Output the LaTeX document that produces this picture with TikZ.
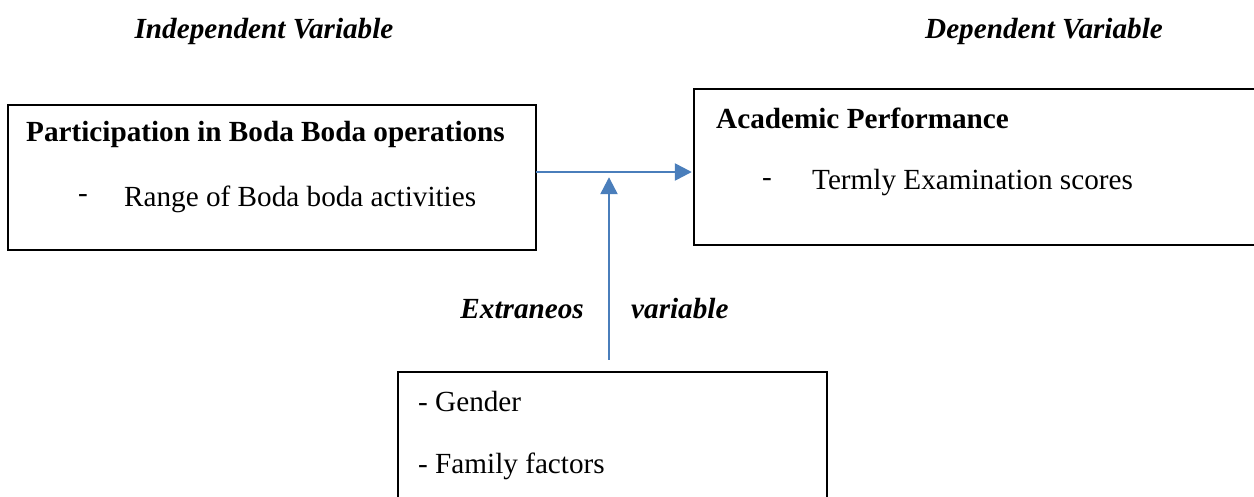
\documentclass[tikz,border=0pt]{standalone}
\usepackage{fontspec}
\setmainfont{Liberation Serif}
\usetikzlibrary{arrows.meta}
\definecolor{arrowblue}{RGB}{74,126,187}
\begin{document}
\begin{tikzpicture}[x=1pt,y=-1pt,
  txt/.style={font=\fontsize{29.2}{34}\selectfont, inner sep=0pt, anchor=west},
  bold/.style={txt, font=\fontsize{29.2}{34}\selectfont\bfseries},
  bolditalic/.style={txt, font=\fontsize{29.2}{34}\selectfont\bfseries\itshape},
  boxline/.style={draw=black, line width=1.4pt},
  conn/.style={draw=arrowblue, line width=2.4pt, -{Triangle[length=17pt,width=17pt]}}
]
\useasboundingbox (0,0) rectangle (1254,496);
% boxes
\draw[boxline] (8,105) rectangle (536,250);
\draw[boxline] (1260,89) -- (694,89) -- (694,245) -- (1260,245);
\draw[boxline] (398,520) -- (398,372) -- (827,372) -- (827,520);
% coordinates for connectors
\node[inner sep=0pt, minimum size=0pt] (ivR) at (536,172) {};
\node[inner sep=0pt, minimum size=0pt] (dvL) at (692,172) {};
\node[inner sep=0pt, minimum size=0pt] (exT) at (609,360) {};
\node[inner sep=0pt, minimum size=0pt] (arrTop) at (609,177) {};
\draw[conn] (ivR) -- (dvL);
\draw[conn] (exT) -- (arrTop);
% headers
\node[bolditalic, anchor=center] (ivh) at (264,31) {Independent Variable};
\node[bolditalic, anchor=center] (dvh) at (1044,31) {Dependent Variable};
% left box text
\node[bold] (ivt) at (26,134) {Participation in Boda Boda operations};
\node[txt] (ivd) at (78,199) {-};
\node[txt] (ivi) at (124,199) {Range of Boda boda activities};
% right box text
\node[bold] (dvt) at (716,118) {Academic Performance};
\node[txt] (dvd) at (762,183) {-};
\node[txt] (dvi) at (812,183) {Termly Examination scores};
% extraneous label
\node[bolditalic, anchor=east] (ex1) at (584,309) {Extraneos};
\node[bolditalic] (ex2) at (631,309) {variable};
% bottom box text
\node[txt] (g1) at (418,402) {- Gender};
\node[txt] (g2) at (418,466) {- Family factors};
\end{tikzpicture}
\end{document}
